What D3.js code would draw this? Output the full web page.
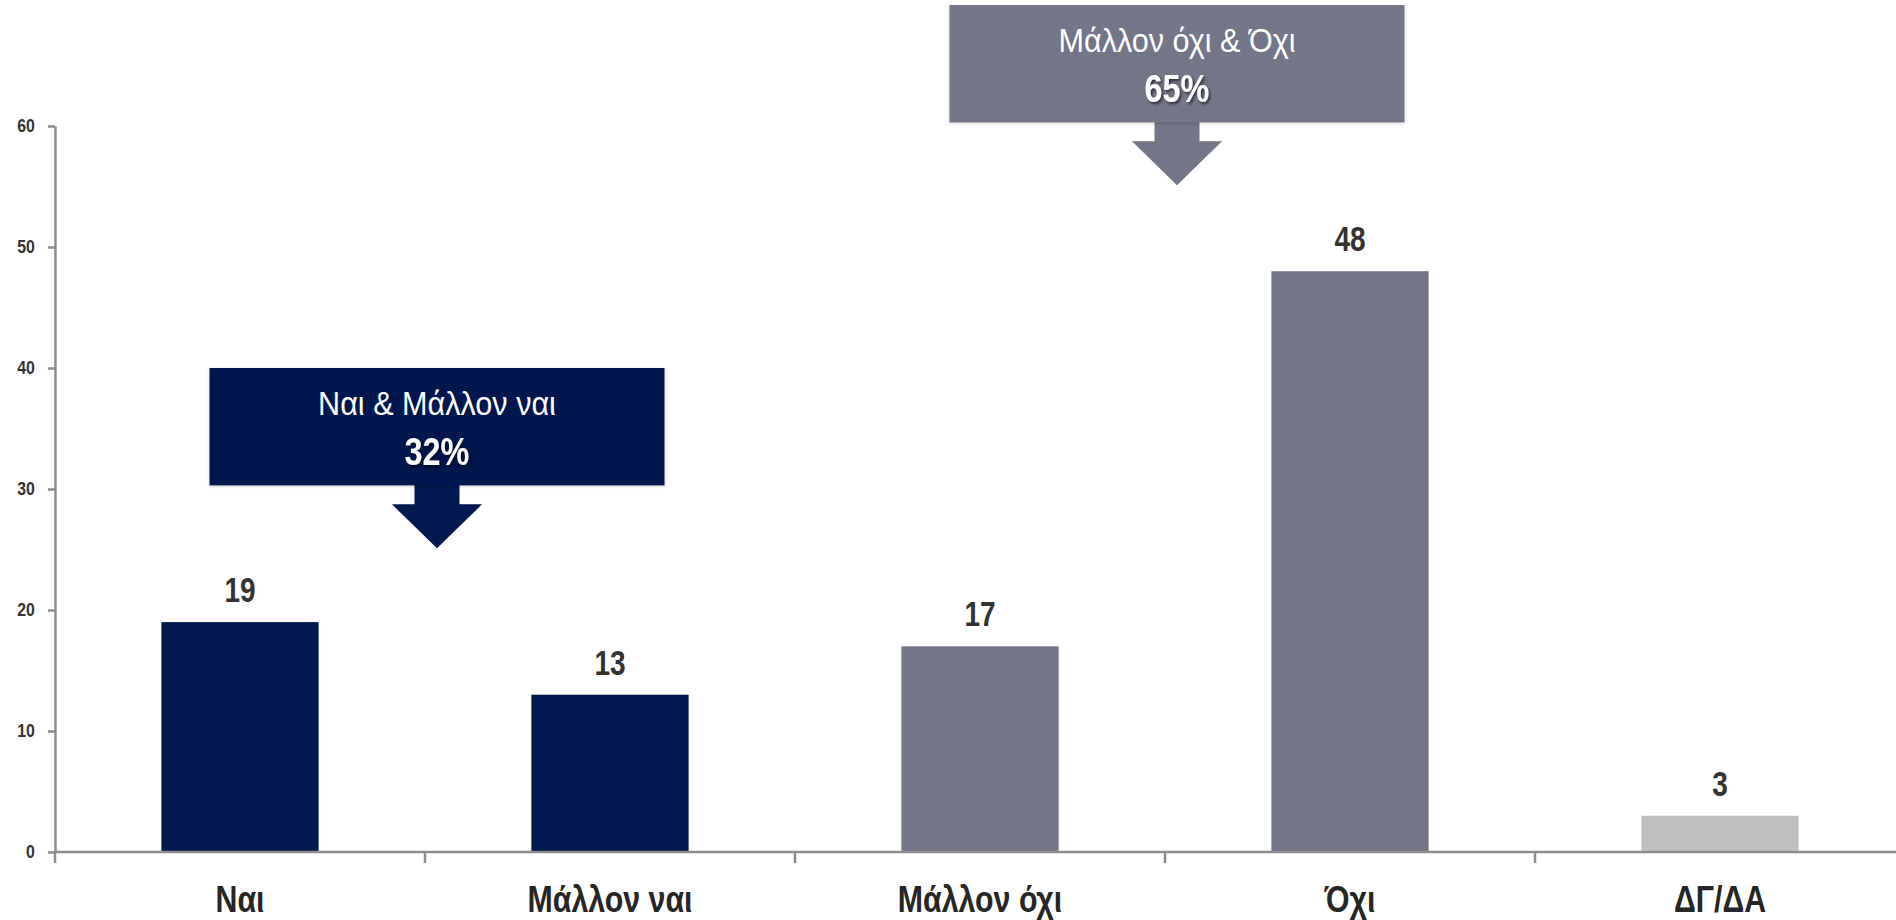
<!DOCTYPE html>
<html>
<head>
<meta charset="utf-8">
<script src="https://cdn.jsdelivr.net/npm/d3@7"></script>
<style>
  html, body { margin: 0; padding: 0; background: #ffffff; }
  svg { display: block; }
  text { font-family: "Liberation Sans", Arial, sans-serif; }
</style>
</head>
<body>
<svg id="chart" width="1896" height="920"></svg>
<script>
const categories = ["Ναι", "Μάλλον ναι", "Μάλλον όχι", "Όχι", "ΔΓ/ΔΑ"];
const values = [19, 13, 17, 48, 3];
const barColors = ["#02194f", "#02194f", "#737589", "#737589", "#bfbfbf"];
const yTicks = [0, 10, 20, 30, 40, 50, 60];
const groupLabels = ["Ναι & Μάλλον ναι", "Μάλλον όχι & Όχι"];
const groupTotals = ["32%", "65%"];
const groupMembers = [[0, 1], [2, 3]];
const groupColors = ["#02194f", "#737589"];
const groupTop = [40, 70];

const svg = d3.select("#chart");
const axisX = 55;
const NARROW = 0.82;

const x = d3.scaleBand()
  .domain(categories)
  .range([axisX, axisX + 5 * 370])
  .paddingInner(0.575)
  .paddingOuter(0.2875);

const y = d3.scaleLinear().domain([0, 60]).range([852, 126]);
const unitPx = y(0) - y(1);

const axisColor = "#8c8c8c";

// helper: place narrow text
function narrowText(sel, px, py, sx) {
  sel.attr("transform", `translate(${px},${py}) scale(${sx},1)`);
  return sel;
}

// Y axis
const ySx = 0.88;
const yAxis = svg.append("g").attr("transform", `translate(${axisX},0)`)
  .call(d3.axisLeft(y).tickValues(yTicks).tickSize(7).tickPadding(16).tickSizeOuter(0));
yAxis.select(".domain").attr("stroke", axisColor).attr("stroke-width", 2.5);
yAxis.selectAll(".tick line").attr("stroke", axisColor).attr("stroke-width", 2.5);
yAxis.selectAll(".tick text")
  .attr("fill", "#333333")
  .attr("transform", `scale(${ySx},1)`)
  .style("font-size", "18px")
  .style("font-weight", "bold");

// Bars
svg.append("g").selectAll("rect").data(categories).join("rect")
  .attr("x", d => x(d))
  .attr("width", x.bandwidth())
  .attr("y", (d, i) => y(values[i]))
  .attr("height", (d, i) => y(0) - y(values[i]))
  .attr("fill", (d, i) => barColors[i]);

// X axis line
const [r0, r1] = x.range();
svg.append("line")
  .attr("x1", r0).attr("x2", r1)
  .attr("y1", y(0)).attr("y2", y(0))
  .attr("stroke", axisColor).attr("stroke-width", 2.5);
const boundaries = d3.range(categories.length + 1).map(i => r0 + i * x.step());
svg.append("g").selectAll("line").data(boundaries).join("line")
  .attr("x1", d => d).attr("x2", d => d)
  .attr("y1", y(0)).attr("y2", y(0) + 11)
  .attr("stroke", axisColor).attr("stroke-width", 2.5);

// X labels
svg.append("g").selectAll("text").data(categories).join("text")
  .attr("transform", d => `translate(${x(d) + x.bandwidth() / 2},912) scale(${NARROW},1)`)
  .attr("text-anchor", "middle")
  .attr("fill", "#262626")
  .style("font-size", "37px")
  .style("font-weight", "bold")
  .text(d => d);

// Value labels
svg.append("g").selectAll("text").data(categories).join("text")
  .attr("transform", (d, i) => `translate(${x(d) + x.bandwidth() / 2},${y(values[i]) - 20}) scale(0.8,1)`)
  .attr("text-anchor", "middle")
  .attr("fill", "#333333")
  .style("font-size", "35px")
  .style("font-weight", "bold")
  .text((d, i) => values[i]);

// Shadow filters
const defs = svg.append("defs");
const f = defs.append("filter").attr("id", "tshadow").attr("x", "-20%").attr("y", "-20%").attr("width", "150%").attr("height", "150%");
f.append("feDropShadow").attr("dx", 2).attr("dy", 2).attr("stdDeviation", 1.5)
  .attr("flood-color", "#000000").attr("flood-opacity", 0.6);
const bf = defs.append("filter").attr("id", "bshadow").attr("x", "-5%").attr("y", "-5%").attr("width", "110%").attr("height", "115%");
bf.append("feDropShadow").attr("dx", 0).attr("dy", 1).attr("stdDeviation", 1.5)
  .attr("flood-color", "#000000").attr("flood-opacity", 0.2);

// Group callouts
const boxW = 455;
const boxHUnits = 9.7;
groupLabels.forEach((lab, gi) => {
  const [a, b] = groupMembers[gi];
  const cx = (x(categories[a]) + x(categories[b]) + x.bandwidth()) / 2 + 12;
  const top = y(groupTop[gi]);
  const bottom = top + boxHUnits * unitPx;
  const g = svg.append("g");
  const stemHalf = 22.5, headHalf = 45;
  const stemEnd = bottom + 19, tip = bottom + 63;
  g.append("path")
    .attr("d", `M${cx - stemHalf},${bottom - 1} L${cx + stemHalf},${bottom - 1} L${cx + stemHalf},${stemEnd} L${cx + headHalf},${stemEnd} L${cx},${tip} L${cx - headHalf},${stemEnd} L${cx - stemHalf},${stemEnd} Z`)
    .attr("fill", groupColors[gi]);
  g.append("rect")
    .attr("x", cx - boxW / 2).attr("y", top)
    .attr("width", boxW).attr("height", bottom - top)
    .attr("fill", groupColors[gi])
    .attr("filter", "url(#bshadow)");
  g.append("text")
    .attr("transform", `translate(${cx},${top + 47}) scale(0.9,1)`)
    .attr("text-anchor", "middle")
    .attr("fill", "#ffffff")
    .style("font-size", "34px")
    .text(lab);
  g.append("text")
    .attr("transform", `translate(${cx},${top + 97}) scale(0.83,1)`)
    .attr("text-anchor", "middle")
    .attr("fill", "#ffffff")
    .style("font-size", "39px")
    .style("font-weight", "bold")
    .attr("filter", "url(#tshadow)")
    .text(groupTotals[gi]);
});
</script>
</body>
</html>
